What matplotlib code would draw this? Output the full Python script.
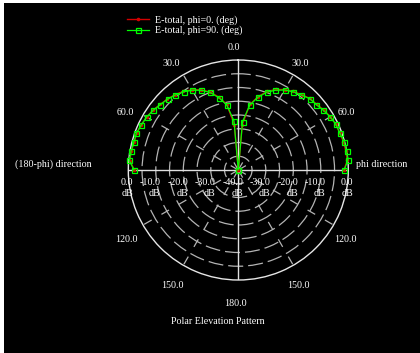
import numpy as np
import matplotlib
matplotlib.use("Agg")
import matplotlib.pyplot as plt
from matplotlib.patches import Rectangle

# ---- pattern data (dB), elevation angle measured from zenith ----
elev_deg = [0, 5, 10, 15, 20, 25, 30, 35, 40, 45, 50, 55, 60, 65, 70, 75, 80, 85, 90]

# E-total, phi = 90 deg
phi90_phi_side = [-40.0, -22.4, -16.0, -12.7, -9.9, -8.0, -6.4, -5.3, -4.4, -3.3,
                  -3.0, -2.2, -1.4, -0.8, -0.7, -0.1, 0.0, 0.0, -1.5]
phi90_back_side = [-40.0, -22.1, -16.0, -12.8, -10.0, -8.0, -6.5, -5.3, -4.4, -3.6,
                   -3.0, -2.2, -1.5, -1.1, -0.6, -0.7, -0.4, -0.2, -2.1]

# E-total, phi = 0 deg
phi0_phi_side = [-40.0, -23.5, -15.8, -12.4, -9.6, -7.7, -6.2, -5.1, -4.2, -3.2,
                 -2.8, -2.0, -1.3, -0.8, -0.8, -0.4, -0.3, -0.2, -1.6]
phi0_back_side = [-40.0, -23.5, -15.8, -12.5, -9.8, -7.8, -6.3, -5.1, -4.2, -3.5,
                  -2.9, -2.1, -1.5, -1.1, -0.7, -0.8, -0.5, -0.4, -2.2]

legend_labels = ["E-total, phi=0. (deg)", "E-total, phi=90. (deg)"]
angle_labels = ["0.0", "30.0", "30.0", "60.0", "60.0", "120.0", "120.0",
                "150.0", "150.0", "180.0"]
db_levels_back = [0, -10, -20, -30, -40]
db_levels_phi = [-30, -20, -10, 0]
ring_levels = [-35, -30, -25, -20, -15, -10, -5]
spoke_angles = [30, 60, 120, 150, 210, 240, 300, 330]

W, H = 420, 353
cx, cy, R = 238.3, 170.0, 110.0
FONT = "Liberation Serif"
FS = 7.2


def fx(px):
    return px / W


def fy(py):
    return 1.0 - py / H


fig = plt.figure(figsize=(W / 100, H / 100), dpi=100, facecolor="white")
fig.patches.append(Rectangle((fx(4), 0), 1, fy(3), transform=fig.transFigure,
                             facecolor="black", edgecolor="none", zorder=-10))

ax = fig.add_axes([fx(cx - R), fy(cy + R), 2 * R / W, 2 * R / H], projection="polar")
ax.set_facecolor("black")
ax.set_theta_zero_location("N")
ax.set_theta_direction(-1)
ax.set_ylim(-40, 0)

ax.set_thetagrids(spoke_angles, labels=[""] * len(spoke_angles))
ax.set_rgrids(ring_levels, labels=[""] * len(ring_levels))
ax.xaxis.grid(True, color="#b4b4b4", linestyle=(0, (7, 9)), linewidth=0.9)
ax.yaxis.grid(True, color="#b4b4b4", linestyle=(2, (12, 4)), linewidth=0.9)
ax.tick_params(length=0)
ax.spines["polar"].set_color("#e6e6e6")
ax.spines["polar"].set_linewidth(1.0)

for a in (0, 90, 180, 270):
    ax.axvline(np.deg2rad(a), color="#e0e0e0", linewidth=1.0, zorder=2)

# one continuous trace per series: (180-phi) side from horizon to zenith, then phi side
elev = np.array(elev_deg, dtype=float)
theta = np.deg2rad(np.concatenate([-elev[::-1], elev]))
r_phi0 = np.concatenate([np.array(phi0_back_side)[::-1], phi0_phi_side])
r_phi90 = np.concatenate([np.array(phi90_back_side)[::-1], phi90_phi_side])

red_line, = ax.plot(theta, r_phi0, color="#d40000", linewidth=1.0, marker="o",
                    markersize=1.6, zorder=3, clip_on=False)
green_line, = ax.plot(theta, r_phi90, color="#00ff00", linewidth=0.9, marker="s",
                      markersize=3.6, markerfacecolor="none", markeredgecolor="#00ff00",
                      markeredgewidth=0.9, zorder=4, clip_on=False)

text_kw = dict(color="white", fontsize=FS, family=FONT)

# dB scale along the horizontal diameter
for lvl in db_levels_back:
    lab = "0.0" if lvl == 0 else f"{lvl:.1f}"
    ax.annotate(lab, xy=(np.deg2rad(-90), lvl), xytext=(5, -12.5), textcoords="offset pixels",
                ha="right", va="center", annotation_clip=False, **text_kw)
    ax.annotate("dB", xy=(np.deg2rad(-90), lvl), xytext=(5, -24), textcoords="offset pixels",
                ha="right", va="center", annotation_clip=False, **text_kw)
for lvl in db_levels_phi:
    lab = "0.0" if lvl == 0 else f"{lvl:.1f}"
    ax.annotate(lab, xy=(np.deg2rad(90), lvl), xytext=(5, -12.5), textcoords="offset pixels",
                ha="right", va="center", annotation_clip=False, **text_kw)
    ax.annotate("dB", xy=(np.deg2rad(90), lvl), xytext=(5, -24), textcoords="offset pixels",
                ha="right", va="center", annotation_clip=False, **text_kw)

# elevation angle labels around the rim
angle_pos = [(234, 48), (171.7, 63), (300, 63), (125.5, 112), (346, 112),
             (126, 239.5), (345, 239.5), (172, 286), (298.3, 286), (235, 303.5)]
for lab, (px, py) in zip(angle_labels, angle_pos):
    fig.text(fx(px), fy(py), lab, ha="center", va="center", **text_kw)

fig.text(fx(53), fy(164.3), "(180-phi) direction", ha="center", va="center", **text_kw)
fig.text(fx(356), fy(165), "phi direction", ha="left", va="center", **text_kw)
fig.text(fx(218.3), fy(321.7), "Polar Elevation Pattern", ha="center", va="center", **text_kw)

leg = fig.legend([red_line, green_line], legend_labels, loc="upper left",
                 bbox_to_anchor=(fx(127), fy(15)), frameon=False,
                 prop=dict(family=FONT, size=FS), labelcolor="white",
                 handlelength=2.2, handletextpad=0.6, labelspacing=0.12,
                 borderpad=0, borderaxespad=0, numpoints=1)

fig.savefig("out.png", dpi=100, facecolor=fig.get_facecolor())
